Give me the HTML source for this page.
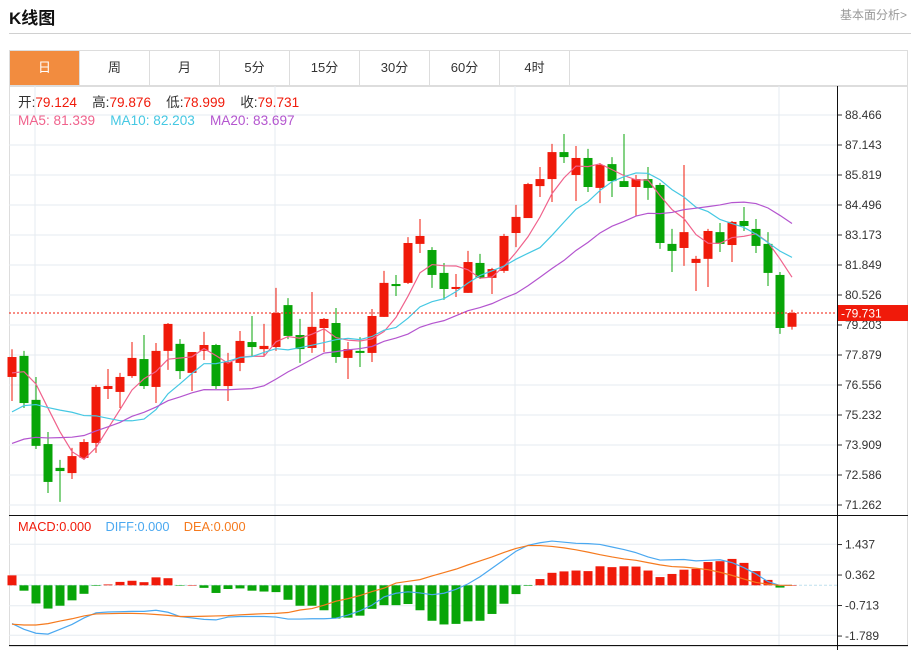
<!DOCTYPE html>
<html><head><meta charset="utf-8">
<style>
body{margin:0;background:#fff;width:913px;height:650px;overflow:hidden;font-family:"Liberation Sans","Noto Sans CJK SC",sans-serif;}
#title{position:absolute;left:9px;top:4px;font-size:17px;font-weight:bold;color:#111;}
#more{position:absolute;right:6px;top:6px;font-size:12px;color:#999;}
#hr{position:absolute;left:9px;top:33px;width:902px;height:1px;background:#d0d0d0;}
#tabs{position:absolute;left:9px;top:50px;width:899px;height:36px;border:1px solid #ddd;box-sizing:border-box;display:flex;}
.tab{width:70px;height:34px;line-height:34px;text-align:center;font-size:13px;color:#333;border-right:1px solid #ddd;box-sizing:border-box;}
.tab.on{background:#f28c3f;color:#fff;}
svg{position:absolute;left:0;top:0;}
</style></head><body>
<div id="title">K线图</div>
<div id="more">基本面分析&gt;</div>
<div id="hr"></div>
<div id="tabs">
<div class="tab on">日</div>
<div class="tab">周</div>
<div class="tab">月</div>
<div class="tab">5分</div>
<div class="tab">15分</div>
<div class="tab">30分</div>
<div class="tab">60分</div>
<div class="tab">4时</div>
</div>
<svg id="chart" width="913" height="650"></svg>
<script>
const opens=[76.91,77.84,75.90,73.95,72.90,72.67,73.34,74.00,76.38,76.25,76.95,77.70,76.47,78.06,78.37,77.09,78.06,78.32,76.51,77.53,78.45,78.14,78.23,80.08,78.76,78.19,79.07,79.29,77.75,78.06,77.97,79.56,81.01,81.06,82.78,82.51,81.50,80.79,80.62,81.94,81.28,81.59,83.26,83.92,85.33,85.64,86.83,85.82,86.57,85.25,86.30,85.55,85.29,85.64,85.38,82.78,82.60,81.94,82.12,83.30,82.73,83.79,83.44,82.78,81.41,79.124];
const highs=[78.13,78.06,76.91,74.48,73.25,73.78,74.17,76.56,77.26,77.09,78.45,78.76,78.41,79.29,78.58,78.01,78.90,78.37,77.97,78.94,79.60,79.25,80.84,80.39,79.47,80.66,79.51,79.95,78.45,78.67,79.91,81.59,81.41,83.08,83.88,82.64,81.94,81.45,82.47,82.34,81.72,83.22,84.50,85.47,86.17,87.19,87.63,87.10,86.97,86.35,86.61,87.63,85.82,86.17,85.47,83.44,86.26,82.25,83.44,83.70,83.79,84.41,83.88,83.30,81.54,79.876];
const lows=[75.85,75.54,73.73,71.79,71.40,72.41,73.25,73.56,75.94,75.54,76.87,76.38,75.76,77.22,76.82,76.29,77.66,76.38,75.85,77.17,77.79,77.84,78.06,78.58,77.53,77.97,78.01,77.53,76.82,77.35,77.57,79.56,80.48,81.01,82.38,80.84,80.31,80.44,80.62,81.23,80.57,81.50,82.64,83.92,84.85,84.63,86.35,84.67,85.07,84.58,84.85,85.29,84.01,84.72,82.56,81.54,81.81,80.70,80.88,82.42,81.98,83.35,82.38,80.92,78.81,78.999];
const closes=[77.79,75.76,73.87,72.28,72.76,73.42,74.04,76.47,76.51,76.91,77.75,76.51,78.06,79.25,77.17,78.01,78.32,76.51,77.57,78.50,78.23,78.28,79.73,78.72,78.14,79.12,79.47,77.79,78.14,77.97,79.60,81.06,80.92,82.82,83.13,81.41,80.79,80.88,81.98,81.28,81.67,83.13,83.97,85.42,85.64,86.83,86.61,86.57,85.29,86.26,85.55,85.29,85.64,85.25,82.82,82.47,83.30,82.12,83.35,82.78,83.75,83.57,82.69,81.50,79.07,79.731];
const priorCloses=[72.0,72.3,72.8,72.5,73.0,72.6,72.4,72.9,73.0,72.4,73.0,73.4,73.6,73.9,74.35,75.5,76.6,77.6,77.96];
const macdBars=[0.35,-0.19,-0.64,-0.82,-0.72,-0.53,-0.30,-0.02,0.03,0.12,0.16,0.11,0.28,0.25,-0.01,0.01,-0.09,-0.27,-0.13,-0.11,-0.19,-0.22,-0.24,-0.51,-0.72,-0.72,-0.88,-1.17,-1.14,-1.07,-0.83,-0.70,-0.70,-0.66,-0.88,-1.25,-1.38,-1.36,-1.27,-1.25,-1.01,-0.65,-0.31,-0.02,0.22,0.44,0.49,0.52,0.50,0.67,0.64,0.67,0.66,0.52,0.29,0.40,0.55,0.58,0.82,0.85,0.93,0.79,0.50,0.19,-0.08,0.01];
const diffs=[-1.35,-1.55,-1.69,-1.72,-1.55,-1.38,-1.15,-0.97,-0.94,-0.93,-0.92,-0.92,-0.88,-0.95,-1.10,-1.15,-1.20,-1.22,-1.12,-1.10,-1.10,-1.10,-1.12,-1.19,-1.19,-1.18,-1.18,-1.16,-1.05,-0.90,-0.70,-0.41,-0.28,-0.23,-0.27,-0.33,-0.28,-0.14,0.05,0.30,0.60,0.90,1.20,1.41,1.50,1.56,1.52,1.48,1.47,1.44,1.35,1.26,1.15,1.00,0.89,0.90,0.91,0.86,0.88,0.90,0.80,0.62,0.40,0.13,-0.01,0.00];
const deas=[-1.37,-1.40,-1.40,-1.35,-1.26,-1.18,-1.08,-1.01,-1.00,-0.99,-0.99,-1.00,-1.03,-1.06,-1.10,-1.10,-1.09,-1.08,-1.07,-1.04,-1.02,-1.00,-0.99,-0.96,-0.87,-0.82,-0.70,-0.56,-0.47,-0.36,-0.22,-0.10,0.08,0.14,0.20,0.33,0.45,0.57,0.72,0.86,1.00,1.16,1.30,1.40,1.40,1.37,1.32,1.25,1.17,1.08,1.00,0.93,0.88,0.80,0.72,0.66,0.64,0.60,0.55,0.46,0.35,0.22,0.10,0.04,0.00,0.00];
const priceTicks=["88.466","87.143","85.819","84.496","83.173","81.849","80.526","79.203","77.879","76.556","75.232","73.909","72.586","71.262"];
const macdTicks=["1.437","0.362","-0.713","-1.789"];

const NS="http://www.w3.org/2000/svg";
const svg=document.getElementById('chart');
function mk(t,a,p){const e=document.createElementNS(NS,t);for(const k in a)e.setAttribute(k,a[k]);(p||svg).appendChild(e);return e;}
const L=9,R=837,PMAX=88.466,PMIN=71.262,PTOP=115,PBOT=505;
const yP=v=>PTOP+(PMAX-v)/(PMAX-PMIN)*(PBOT-PTOP);
const xC=i=>12+i*12;
const yM=v=>585.3-v*28.37;
const RED="#f01a0a",GREEN="#08a508";

let g=mk('g',{});


mk('rect',{x:9.5,y:86.5,width:898,height:560,fill:'none',stroke:'#ddd'},g);
for(let k=0;k<priceTicks.length;k++){const y=PTOP+k*30;mk('line',{x1:L,x2:R,y1:y,y2:y,stroke:'#e6ebf0'},g);}
[35,275,515,779].forEach(x=>{mk('line',{x1:x,x2:x,y1:86,y2:645,stroke:'#e6ebf0'},g);});
[544.3,575,605.7,635.3].forEach(y=>mk('line',{x1:L,x2:R,y1:y,y2:y,stroke:'#e6ebf0'},g));
mk('line',{x1:L,x2:908,y1:515.5,y2:515.5,stroke:'#111'},g);
mk('line',{x1:L,x2:908,y1:645.5,y2:645.5,stroke:'#111'},g);
mk('line',{x1:837.5,x2:837.5,y1:86,y2:650,stroke:'#111'},g);

priceTicks.forEach((t,k)=>{const y=PTOP+k*30;mk('line',{x1:838,x2:842,y1:y,y2:y,stroke:'#333'});
 const tx=mk('text',{x:845,y:y+4,'font-size':12,fill:'#333'});tx.textContent=t;
 
 });
macdTicks.forEach(t=>{const y=yM(parseFloat(t));mk('line',{x1:838,x2:842,y1:y,y2:y,stroke:'#333'});
 const tx=mk('text',{x:845,y:y+4,'font-size':12,fill:'#333'});tx.textContent=t;
 
 });

closes.forEach((c,i)=>{const o=opens[i],x=xC(i),up=c>=o,col=up?RED:GREEN;
 const cg=mk('g',{});
 
 
 mk('line',{x1:x,x2:x,y1:yP(highs[i]),y2:yP(lows[i]),stroke:col,'stroke-width':1},cg);
 const t=yP(Math.max(o,c)),b=yP(Math.min(o,c));
 mk('rect',{x:x-4.5,y:t,width:9,height:Math.max(b-t,1.5),fill:col},cg);});

const all=priorCloses.concat(closes);
function ma(n){return closes.map((_,i)=>{const j=i+priorCloses.length;let s=0;for(let k=j-n+1;k<=j;k++)s+=all[k];return s/n;});}
[[5,'#f0628c','ma5-line'],[10,'#45c8e3','ma10-line'],[20,'#b455cf','ma20-line']].forEach(([n,col,name])=>{
 const pts=ma(n).map((v,i)=>xC(i)+','+yP(v)).join(' ');
 const pl=mk('polyline',{points:pts,fill:'none',stroke:col,'stroke-width':1.2});
 
 });

const lp=closes[closes.length-1];
mk('line',{x1:L,x2:R,y1:yP(lp),y2:yP(lp),stroke:RED,'stroke-dasharray':'2,2','stroke-width':1});
const lb=mk('rect',{x:838,y:yP(lp)-8,width:70,height:16,fill:RED});


const lt=mk('text',{x:841,y:yP(lp)+4.5,'font-size':12,fill:'#fff'});lt.textContent='-'+lp.toFixed(3);

mk('line',{x1:L,x2:R,y1:yM(0),y2:yM(0),stroke:'#bfe0ee','stroke-dasharray':'3,2'});
macdBars.forEach((v,i)=>{const x=xC(i),y0=yM(0),y1=yM(v);
 const r=mk('rect',{x:x-4.5,y:Math.min(y0,y1),width:9,height:Math.max(Math.abs(y1-y0),0.5),fill:v>=0?RED:GREEN});
 
 });
[[diffs,'#4aa8f0','diff-line'],[deas,'#f57a1e','dea-line']].forEach(([arr,col,name])=>{
 const pl=mk('polyline',{points:arr.map((v,i)=>xC(i)+','+yM(v)).join(' '),fill:'none',stroke:col,'stroke-width':1.2});
 
 });

function legend(x,y,fs,parts,name){const t=mk('text',{x:x,y:y,'font-size':fs});
 
 
 t.style.whiteSpace='pre';
 parts.forEach(([s,c])=>{const ts=mk('tspan',{fill:c},t);ts.textContent=s;});}
legend(18,107,13.6,[['开:','#333'],['79.124    ',RED],['高:','#333'],['79.876    ',RED],['低:','#333'],['78.999    ',RED],['收:','#333'],['79.731',RED]],'ohlc-legend');
legend(18,125,13.6,[['MA5: 81.339    ','#f0628c'],['MA10: 82.203    ','#45c8e3'],['MA20: 83.697','#b455cf']],'ma-legend');
legend(18,531,12.8,[['MACD:0.000    ',RED],['DIFF:0.000    ','#4aa8f0'],['DEA:0.000','#f57a1e']],'macd-legend');
</script>
</body></html>
